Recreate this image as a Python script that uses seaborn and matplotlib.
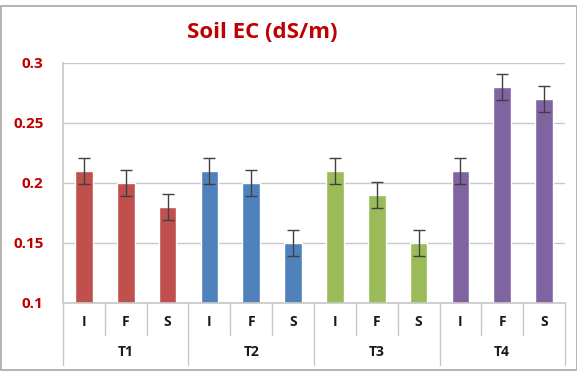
import matplotlib
matplotlib.use("Agg")
import matplotlib.pyplot as plt
import matplotlib.transforms as mtransforms
from matplotlib.patches import Rectangle
import seaborn as sns
import pandas as pd

# Soil EC per treatment and sampling stage
groups = ["T1", "T2", "T3", "T4"]
stages = ["I", "F", "S"]
t1_values = [0.21, 0.20, 0.18]
t2_values = [0.21, 0.20, 0.15]
t3_values = [0.21, 0.19, 0.15]
t4_values = [0.21, 0.28, 0.27]
error = [0.011] * 12
group_colors = ["#C0504D", "#4F81BD", "#9BBB59", "#8064A2"]

rows = []
for g, vals in zip(groups, [t1_values, t2_values, t3_values, t4_values]):
    for s, v in zip(stages, vals):
        rows.append({"group": g, "stage": s, "label": f"{g}-{s}", "ec": v})
df = pd.DataFrame(rows)

sns.set_theme(style="white")
plt.rcParams["font.family"] = ["Open Sans", "DejaVu Sans"]

fig = plt.figure(figsize=(5.77, 3.73), dpi=100)
W, H = 577, 373
ax = fig.add_axes([63 / W, 70 / H, 502 / W, 240 / H])

sns.barplot(data=df, x="label", y="ec", hue="group", palette=group_colors,
            dodge=False, width=0.42, ax=ax, legend=False, saturation=1)

xs = list(range(len(df)))
ax.errorbar(xs, df["ec"], yerr=error, fmt="none", ecolor="#404040",
            elinewidth=1.0, capsize=4, capthick=1.0)

ax.set_ylim(0.1, 0.3)
ax.set_xlim(-0.5, len(df) - 0.5)
ax.set_yticks([0.1, 0.15, 0.2, 0.25, 0.3])
ax.set_yticklabels(["0.1", "0.15", "0.2", "0.25", "0.3"])
ax.yaxis.grid(True, color="#C8C8C8", linewidth=1.0)
ax.set_axisbelow(True)
ax.tick_params(axis="y", length=6, width=1.0, color="#C8C8C8", pad=8,
               labelsize=11, labelcolor="#C00000")
for lab in ax.get_yticklabels():
    lab.set_fontweight("bold")
ax.set_xticks([])
ax.set_xlabel("")
ax.set_ylabel("")
for side in ["top", "right"]:
    ax.spines[side].set_visible(False)
ax.spines["left"].set_color("#C8C8C8")
ax.spines["bottom"].set_color("#C8C8C8")

# Two-level category axis
trans = mtransforms.blended_transform_factory(ax.transData, ax.transAxes)
px = 1.0 / 240.0
for k in range(1, len(df)):
    if k % 3 == 0:
        continue
    ax.plot([k - 0.5, k - 0.5], [0, -32 * px], transform=trans, color="#C8C8C8",
            lw=1.0, clip_on=False)
for k in range(0, len(df) + 1, 3):
    ax.plot([k - 0.5, k - 0.5], [0, -62 * px], transform=trans, color="#C8C8C8",
            lw=1.0, clip_on=False)
for i, row in df.iterrows():
    ax.text(i, -19 * px, row["stage"], transform=trans, ha="center", va="center",
            fontsize=10, fontweight="bold", color="#1A1A1A")
for j, g in enumerate(groups):
    ax.text(3 * j + 1, -49 * px, g, transform=trans, ha="center", va="center",
            fontsize=10, fontweight="bold", color="#1A1A1A")

fig.text(262 / W, 1 - 32 / H, "Soil EC (dS/m)", ha="center", va="center",
         fontsize=16, fontweight="bold", color="#C00000")

# Outer chart frame
fig.patches.append(Rectangle((0.5 / W, 3 / H), 576 / W, 364 / H,
                             transform=fig.transFigure, fill=False,
                             edgecolor="#A6A6A6", lw=1.2))

fig.savefig("out.png", dpi=100)
